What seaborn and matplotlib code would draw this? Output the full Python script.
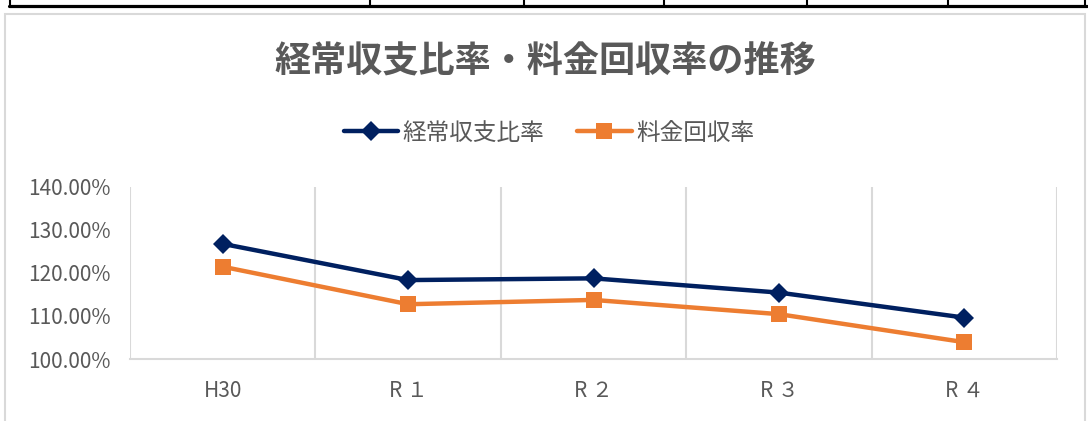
import matplotlib
matplotlib.use('Agg')
import matplotlib.pyplot as plt
import seaborn as sns
import pandas as pd
from matplotlib.lines import Line2D
from matplotlib.patches import Rectangle
from matplotlib.ticker import FuncFormatter, FixedLocator

years = ['H30', 'R １', 'R ２', 'R ３', 'R ４']
keijo = [126.7, 118.3, 118.7, 115.4, 109.6]   # 経常収支比率
ryokin = [121.4, 112.7, 113.7, 110.4, 103.9]  # 料金回収率
names = ['経常収支比率', '料金回収率']
colors = ['#002060', '#ED7D31']

sns.set_style('white')
plt.rcParams['font.family'] = ['Noto Sans CJK JP', 'DejaVu Sans']

W, H = 1088, 421
fig = plt.figure(figsize=(W / 100, H / 100), dpi=100)
ax = fig.add_axes([130 / W, 1 - 359 / H, (1057 - 130) / W, (359 - 186.5) / H])

df = pd.DataFrame({'year': years, names[0]: keijo, names[1]: ryokin})

sns.lineplot(data=df, x='year', y=names[0], ax=ax, color=colors[0], lw=3.2,
             marker='D', markersize=10, markeredgewidth=0, sort=False)
sns.lineplot(data=df, x='year', y=names[1], ax=ax, color=colors[1], lw=3.2,
             marker='s', markersize=12, markeredgewidth=0, sort=False)

ax.set_xlim(-0.5, 4.5)
ax.set_ylim(100, 140)
ax.set_yticks([100, 110, 120, 130, 140])
ax.yaxis.set_major_formatter(FuncFormatter(lambda v, p: f'{v:.2f}%'))
ax.xaxis.set_minor_locator(FixedLocator([-0.5, 0.5, 1.5, 2.5, 3.5, 4.5]))
ax.grid(True, which='minor', axis='x', color='#d9d9d9', lw=1.5)
ax.grid(False, which='major')
ax.tick_params(axis='both', which='both', length=0, colors='#595959')
ax.tick_params(axis='y', pad=14, labelsize=15)
ax.tick_params(axis='x', pad=15, labelsize=15)
for s in ['top', 'right', 'left']:
    ax.spines[s].set_visible(False)
ax.spines['bottom'].set_color('#d9d9d9')
ax.spines['bottom'].set_linewidth(1.5)
ax.set_xlabel('')
ax.set_ylabel('')
if ax.get_legend():
    ax.get_legend().remove()

fig.text(545 / W, 1 - 62 / H, '経常収支比率・料金回収率の推移', ha='center', va='center',
         fontsize=26, fontweight='bold', color='#595959')

handles = [Line2D([], [], color=colors[0], lw=3.2, marker='D', markersize=10, markeredgewidth=0),
           Line2D([], [], color=colors[1], lw=3.2, marker='s', markersize=12, markeredgewidth=0)]
fig.legend(handles, names, loc='center', bbox_to_anchor=(549 / W, 1 - 133 / H), ncol=2,
           frameon=False, fontsize=17, labelcolor='#595959', handlelength=2.3,
           columnspacing=1.4, handletextpad=0.2)

# chart frame
fig.patches.append(Rectangle((5 / W, -0.05), (1085 - 5) / W, 1.05 - 14 / H, transform=fig.transFigure,
                             fill=False, edgecolor='#d9d9d9', lw=1.5))
# table row above
fig.add_artist(Line2D([9 / W, 1087 / W], [1 - 5.8 / H] * 2, color='black', lw=2.3))
for x in [10, 370, 524, 664, 807, 948, 1085]:
    fig.add_artist(Line2D([x / W] * 2, [1 - 6 / H, 1.0], color='black', lw=1.5))

fig.savefig('out.png', dpi=100)
